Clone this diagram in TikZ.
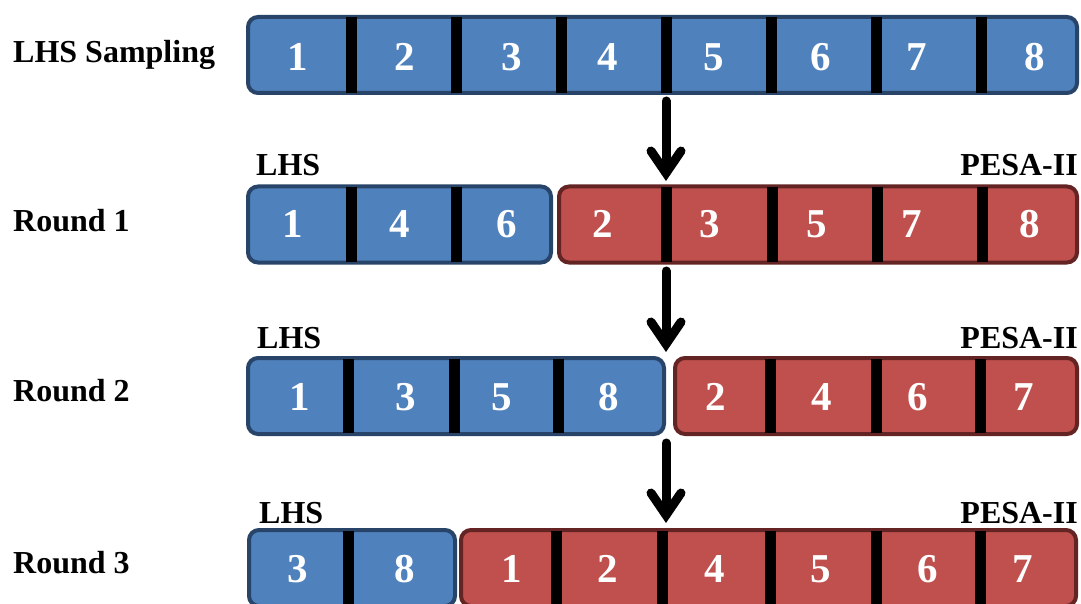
\documentclass[tikz,border=0pt]{standalone}
\usepackage{fontspec}
\setmainfont{Liberation Serif}
\usetikzlibrary{arrows.meta}
\definecolor{bfill}{HTML}{4F81BD}
\definecolor{bdraw}{HTML}{284468}
\definecolor{rfill}{HTML}{C0504D}
\definecolor{rdraw}{HTML}{632423}
\tikzset{
  box/.style={rectangle, rounded corners=10pt, line width=4pt, inner sep=0pt, minimum height=76pt},
  bluebox/.style={box, fill=bfill, draw=bdraw},
  redbox/.style={box, fill=rfill, draw=rdraw},
  divider/.style={line width=11pt, black},
  num/.style={text=white, font=\fontsize{41}{41}\selectfont\bfseries, inner sep=0pt},
  lab/.style={font=\fontsize{32}{32}\selectfont\bfseries, inner sep=0pt, anchor=base west},
  labr/.style={font=\fontsize{32}{32}\selectfont\bfseries, inner sep=0pt, anchor=base east},
  arr/.style={line width=9pt, line cap=round, -{Straight Barb[length=22pt, width=30pt, line cap=round]}},
}
\begin{document}
\begin{tikzpicture}[x=1pt, y=-1pt]
\useasboundingbox (0,0) rectangle (1081,604);
% row labels
\node[lab] (l0) at (13,63) {LHS Sampling};
\node[lab] (l1) at (13,231) {Round 1};
\node[lab] (l2) at (13,401) {Round 2};
\node[lab] (l3) at (13,573) {Round 3};
% Row 0
\node[bluebox, minimum width=829pt] (r0) at (662.5,55) {};
\foreach \x in {351,456,561,666,771,876,981} \draw[divider] (\x,17) -- (\x,93);
\foreach \n/\x in {1/298,2/405,3/512,4/608,5/714,6/821,7/917,8/1035}
  \node[num] (r0n\n) at (\x,57) {\n};
% Row 1
\node[lab] (h1) at (256,176) {LHS};
\node[labr] (p1) at (1078,176) {PESA-II};
\node[bluebox, minimum width=303pt] (r1b) at (399.5,224.5) {};
\node[redbox, minimum width=518pt] (r1r) at (818,224.5) {};
\foreach \x in {351,456,666,772,877,982} \draw[divider] (\x,187) -- (\x,262);
\foreach \n/\x in {1/293,4/400,6/507,2/603,3/710,5/817,7/912,8/1030}
  \node[num] (r1n\n) at (\x,224) {\n};
% Row 2
\node[lab] (h2) at (257,348) {LHS};
\node[labr] (p2) at (1078,348) {PESA-II};
\node[bluebox, minimum width=416pt] (r2b) at (456,396) {};
\node[redbox, minimum width=402pt] (r2r) at (876,396) {};
\foreach \x in {348,454,558,770,876,980} \draw[divider] (\x,359) -- (\x,433);
\foreach \n/\x in {1/300,3/406,5/502,8/609,2/716,4/822,6/918,7/1024}
  \node[num] (r2n\n) at (\x,397) {\n};
% Row 3
\node[lab] (h3) at (259,523) {LHS};
\node[labr] (p3) at (1078,523) {PESA-II};
\node[bluebox, minimum width=206pt] (r3b) at (352,568) {};
\node[redbox, minimum width=615pt] (r3r) at (768.5,568) {};
\foreach \x in {348,556,662,770,876,980} \draw[divider] (\x,531) -- (\x,606);
\foreach \n/\x in {3/298,8/405,1/512,2/608,4/715,5/821,6/928,7/1023}
  \node[num] (r3n\n) at (\x,569) {\n};
% arrows
\coordinate (a1s) at (666,101);
\coordinate (a1e) at (666,181);
\coordinate (a2s) at (666,271);
\coordinate (a2e) at (666,352);
\coordinate (a3s) at (666,443);
\coordinate (a3e) at (666,523);
\draw[arr] (a1s) -- (a1e);
\draw[arr] (a2s) -- (a2e);
\draw[arr] (a3s) -- (a3e);
\end{tikzpicture}
\end{document}
